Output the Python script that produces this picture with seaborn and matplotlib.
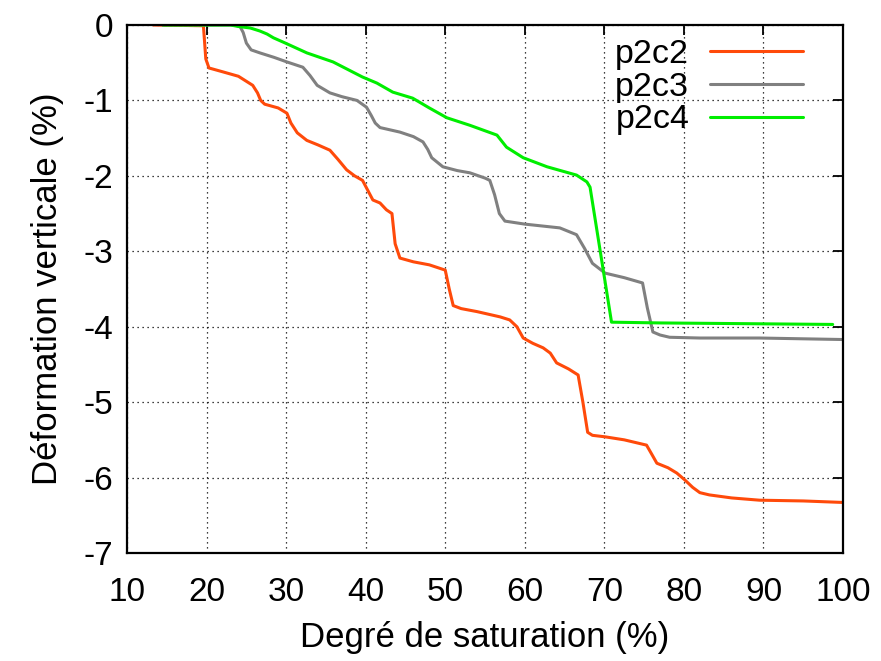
import pandas as pd
import matplotlib
matplotlib.use('Agg')
import matplotlib.pyplot as plt
import seaborn as sns

# courbes
x_p2c2 = [13.3, 19.6, 19.9, 20.3, 22.0, 24.0, 25.8, 26.4, 26.8, 27.3, 29.0, 30.1,
          30.6, 31.4, 32.6, 34.0, 35.5, 36.5, 37.6, 38.6, 39.6, 40.2, 40.9,
          41.8, 42.6, 43.3, 43.7, 44.3, 46.0, 48.0, 50.0, 50.5, 51.0, 52.0, 54.0,
          56.9, 58.1, 59.0, 59.8, 61.0, 62.3, 63.2, 64.0, 65.5, 66.7, 67.3, 67.9,
          68.5, 70.1, 72.5, 75.3, 75.9, 76.6, 78.0, 79.1, 80.1, 81.1, 82.0, 83.2,
          86.0, 89.5, 95.0, 100.0]
y_p2c2 = [0.0, -0.01, -0.45, -0.57, -0.62, -0.68, -0.8, -0.9, -1.0, -1.05, -1.1, -1.17,
          -1.3, -1.43, -1.53, -1.59, -1.66, -1.78, -1.92, -2.0, -2.06, -2.18, -2.32,
          -2.36, -2.45, -2.5, -2.9, -3.09, -3.14, -3.18, -3.25, -3.5, -3.72, -3.76, -3.8,
          -3.87, -3.91, -4.0, -4.15, -4.22, -4.28, -4.35, -4.48, -4.56, -4.64, -5.0, -5.4,
          -5.44, -5.46, -5.5, -5.57, -5.68, -5.81, -5.87, -5.94, -6.03, -6.13, -6.2, -6.23,
          -6.27, -6.3, -6.31, -6.33]

x_p2c3 = [14.5, 23.5, 24.2, 24.6, 25.0, 25.6, 26.7, 28.5, 30.1, 32.1, 33.0, 33.9, 35.5, 37.0,
          38.9, 40.1, 40.7, 41.2, 41.8, 44.3, 46.0, 47.2, 47.8, 48.3, 49.7, 51.5, 53.1,
          55.0, 55.6, 56.2, 56.8, 57.5, 60.0, 64.4, 66.5, 67.5, 68.5, 70.1, 72.5, 74.8,
          75.4, 76.1, 77.0, 78.2, 82.0, 89.5, 100.0]
y_p2c3 = [0.0, 0.0, -0.02, -0.1, -0.24, -0.33, -0.37, -0.43, -0.49, -0.56, -0.67, -0.8, -0.9,
          -0.95, -1.0, -1.09, -1.2, -1.3, -1.36, -1.42, -1.48, -1.55, -1.65, -1.76, -1.88, -1.93,
          -1.96, -2.03, -2.06, -2.25, -2.5, -2.6, -2.64, -2.69, -2.78, -2.96, -3.16, -3.29, -3.35,
          -3.42, -3.75, -4.07, -4.11, -4.14, -4.15, -4.15, -4.17]

x_p2c4 = [14.5, 23.0, 24.0, 25.5, 26.7, 27.6, 28.4, 29.9, 32.6, 35.9, 39.6, 41.4, 43.4, 45.9,
          48.0, 50.2, 53.1, 56.5, 57.7, 59.8, 62.8, 66.5, 67.8, 68.2, 70.9, 77.0, 88.0, 98.7]
y_p2c4 = [0.0, 0.0, -0.02, -0.04, -0.08, -0.12, -0.17, -0.24, -0.37, -0.49, -0.69, -0.77,
          -0.89, -0.97, -1.1, -1.23, -1.33, -1.46, -1.62, -1.76, -1.88, -1.99, -2.08, -2.15,
          -3.94, -3.95, -3.96, -3.97]

series = ['p2c2', 'p2c3', 'p2c4']
couleurs = ['#ff4a0a', '#808080', '#00ee00']

df = pd.concat([
    pd.DataFrame({'x': x_p2c2, 'y': y_p2c2, 'courbe': 'p2c2'}),
    pd.DataFrame({'x': x_p2c3, 'y': y_p2c3, 'courbe': 'p2c3'}),
    pd.DataFrame({'x': x_p2c4, 'y': y_p2c4, 'courbe': 'p2c4'}),
])

sns.set_style('white')
plt.rcParams['font.family'] = ['Liberation Sans', 'DejaVu Sans']
plt.rcParams['axes.unicode_minus'] = False
plt.rcParams['text.color'] = 'black'
plt.rcParams['axes.labelcolor'] = 'black'

fig = plt.figure(figsize=(8.81, 6.61), dpi=100)
ax = fig.add_axes([0.1442, 0.1634, 0.8127, 0.7988])

sns.lineplot(data=df, x='x', y='y', hue='courbe', hue_order=series,
             palette=couleurs, sort=False, linewidth=2.2, ax=ax, legend=False)

ax.set_xlim(10, 100)
ax.set_ylim(-7, 0)
ax.set_xticks(range(10, 101, 10))
ax.set_yticks(range(-7, 1))
ax.grid(True, linestyle=(0, (1, 3)), color='black', linewidth=0.9)
ax.tick_params(direction='in', length=7, width=1.3, labelsize=24,
               top=True, right=True, pad=10, colors='black')
ax.tick_params(axis='x', pad=17)
for s in ax.spines.values():
    s.set_color('black')
    s.set_linewidth(1.6)

ax.set_xlabel('Degré de saturation (%)', fontsize=25, labelpad=10)
ax.set_ylabel('Déformation verticale (%)', fontsize=25, labelpad=14)

poignees = [plt.Line2D([], [], color=c, linewidth=2.2) for c in couleurs]
leg = ax.legend(poignees, series, loc='upper right', bbox_to_anchor=(0.973, 1.012),
                frameon=False, markerfirst=False, fontsize=24.5, handlelength=2.75,
                handletextpad=0.6, labelspacing=0.05, borderaxespad=0.2)
for t in leg.get_texts():
    t.set_ha('right')

fig.savefig('out.png', dpi=100)
